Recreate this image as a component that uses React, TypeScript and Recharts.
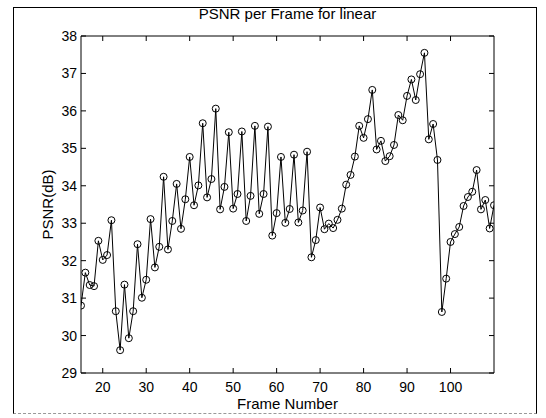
import React from "react";
import { LineChart, Line, XAxis, YAxis } from "recharts";

const frames = [
  15, 16, 17, 18, 19, 20, 21, 22, 23, 24, 25, 26, 27, 28, 29, 30, 31, 32, 33, 34, 35, 36, 37, 38,
  39, 40, 41, 42, 43, 44, 45, 46, 47, 48, 49, 50, 51, 52, 53, 54, 55, 56, 57, 58, 59, 60, 61, 62,
  63, 64, 65, 66, 67, 68, 69, 70, 71, 72, 73, 74, 75, 76, 77, 78, 79, 80, 81, 82, 83, 84, 85, 86,
  87, 88, 89, 90, 91, 92, 93, 94, 95, 96, 97, 98, 99, 100, 101, 102, 103, 104, 105, 106, 107, 108,
  109, 110,
];

const psnr = [
  30.8, 31.68, 31.35, 31.32, 32.53, 32.02, 32.15, 33.08, 30.65, 29.61, 31.36, 29.93, 30.65, 32.44,
  31.01, 31.49, 33.11, 31.82, 32.37, 34.24, 32.3, 33.06, 34.05, 32.85, 33.64, 34.77, 33.48, 34.01,
  35.67, 33.69, 34.18, 36.06, 33.37, 33.97, 35.43, 33.39, 33.78, 35.45, 33.06, 33.73, 35.6, 33.25,
  33.78, 35.58, 32.67, 33.27, 34.77, 33.01, 33.38, 34.83, 33.02, 33.34, 34.91, 32.09, 32.55, 33.42,
  32.84, 32.99, 32.87, 33.09, 33.39, 34.03, 34.29, 34.78, 35.6, 35.28, 35.78, 36.56, 34.97, 35.2,
  34.66, 34.79, 35.09, 35.89, 35.75, 36.4, 36.84, 36.29, 36.98, 37.55, 35.24, 35.65, 34.69, 30.63,
  31.52, 32.5, 32.71, 32.9, 33.46, 33.7, 33.84, 34.42, 33.37, 33.62, 32.86, 33.48,
];

const xTicks = [20, 30, 40, 50, 60, 70, 80, 90, 100];
const yTicks = [29, 30, 31, 32, 33, 34, 35, 36, 37, 38];

const data = frames.map((f, i) => ({ frame: f, psnr: psnr[i] }));

const font = "Arial, 'Liberation Sans', sans-serif";
const tickStyle = { fill: "#000", fontSize: 14, fontFamily: font };
const hidden = () => <g />;

export default function App() {
  return (
    <div style={{ position: "absolute", left: 0, top: 0, width: 546, height: 418, background: "#fff" }}>
      <LineChart
        width={546}
        height={418}
        data={data}
        margin={{ top: 35, right: 51, bottom: 5, left: 21 }}
        style={{ position: "absolute", left: 0, top: 0 }}
      >
        <XAxis
          dataKey="frame"
          type="number"
          domain={[15, 110]}
          ticks={xTicks}
          allowDataOverflow
          height={40}
          stroke="#000"
          tickSize={-5}
          tickMargin={14}
          tick={tickStyle}
          label={{ value: "Frame Number", position: "insideBottom", offset: 4, fill: "#000", fontSize: 15, fontFamily: font }}
        />
        <XAxis
          xAxisId="top"
          orientation="top"
          dataKey="frame"
          type="number"
          domain={[15, 110]}
          ticks={xTicks}
          allowDataOverflow
          height={1}
          stroke="#000"
          tickSize={-5}
          tick={hidden}
          label={{ value: "PSNR per Frame for linear", position: "top", offset: 16, fill: "#000", fontSize: 15, fontFamily: font }}
        />
        <YAxis
          type="number"
          domain={[29, 38]}
          ticks={yTicks}
          allowDataOverflow
          width={60}
          stroke="#000"
          tickSize={-5}
          tickMargin={9}
          tick={tickStyle}
          label={{ value: "PSNR(dB)", angle: -90, position: "insideLeft", offset: 27, fill: "#000", fontSize: 15, fontFamily: font, style: { textAnchor: "middle" } }}
        />
        <YAxis
          yAxisId="right"
          orientation="right"
          type="number"
          domain={[29, 38]}
          ticks={yTicks}
          allowDataOverflow
          width={1}
          stroke="#000"
          tickSize={-5}
          tick={hidden}
        />
        <Line
          dataKey="psnr"
          type="linear"
          stroke="#000"
          strokeWidth={1}
          dot={{ r: 3.5, stroke: "#000", strokeWidth: 1, fill: "none" }}
          isAnimationActive={false}
        />
      </LineChart>
      {/* figure frame */}
      <div
        style={{
          position: "absolute",
          left: 13,
          top: 7,
          width: 524,
          height: 407,
          borderLeft: "1px solid #000",
          borderTop: "1px solid #000",
          borderRight: "1px solid #000",
          borderBottom: "1px dashed #999",
          boxSizing: "border-box",
          pointerEvents: "none",
        }}
      />
    </div>
  );
}
